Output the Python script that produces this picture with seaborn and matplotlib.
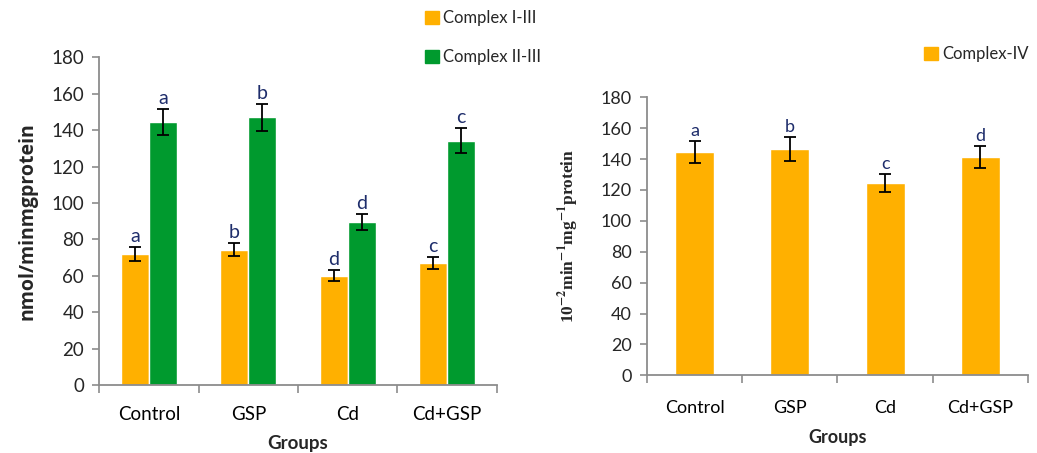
import numpy as np
import pandas as pd
import matplotlib
matplotlib.use('Agg')
import matplotlib.pyplot as plt
from matplotlib.patches import Patch
from matplotlib.ticker import FixedLocator
import seaborn as sns

sns.set_theme(style='white')
plt.rcParams['font.family'] = ['Lato', 'DejaVu Sans']
plt.rcParams['mathtext.fontset'] = 'stix'

# datos
grupos = ['Control', 'GSP', 'Cd', 'Cd+GSP']
series_izq = ['Complex I-III', 'Complex II-III']
c13 = [71.8, 74.3, 60.1, 66.8]
c13_err = [3.9, 3.7, 3.1, 3.3]
c13_let = ['a', 'b', 'd', 'c']
c23 = [144.3, 147.0, 89.4, 134.2]
c23_err = [7.2, 7.3, 4.4, 6.8]
c23_let = ['a', 'b', 'd', 'c']
c4 = [144.6, 146.4, 124.6, 141.5]
c4_err = [7.1, 7.6, 6.0, 7.1]
c4_let = ['a', 'b', 'c', 'd']

naranja = '#FFB000'
verde = '#009A2E'
gris = '#8C8C8C'
letra = '#1E2D6B'

df_izq = pd.DataFrame({
    'Grupo': grupos * 2,
    'Complejo': [series_izq[0]] * 4 + [series_izq[1]] * 4,
    'Valor': c13 + c23,
})
df_der = pd.DataFrame({'Grupo': grupos, 'Valor': c4})

fig = plt.figure(figsize=(10.37, 4.53), dpi=100)
ax1 = fig.add_axes([0.0959, 0.1501, 0.3830, 0.7234])
ax2 = fig.add_axes([0.6239, 0.1715, 0.3674, 0.6137])

sns.barplot(data=df_izq, x='Grupo', y='Valor', hue='Complejo', order=grupos,
            hue_order=series_izq, palette=[naranja, verde], width=0.565,
            errorbar=None, legend=False, saturation=1, ax=ax1)
sns.barplot(data=df_der, x='Grupo', y='Valor', order=grupos, color=naranja,
            width=0.41, errorbar=None, saturation=1, ax=ax2)


def barras_error(ax, cont, vals, errs, letras, fs):
    xs = [p.get_x() + p.get_width() / 2 for p in cont.patches]
    ax.errorbar(xs, vals, yerr=errs, fmt='none', ecolor='black',
                elinewidth=1.3, capsize=4, capthick=1.3)
    for x, v, e, l in zip(xs, vals, errs, letras):
        ax.annotate(l, (x, v + e), xytext=(0, 1.5), textcoords='offset points',
                    ha='center', va='bottom', fontsize=fs, color=letra)


barras_error(ax1, ax1.containers[0], c13, c13_err, c13_let, 14)
barras_error(ax1, ax1.containers[1], c23, c23_err, c23_let, 14)
barras_error(ax2, ax2.containers[0], c4, c4_err, c4_let, 13)

for ax, fs, pad in [(ax1, 13.5, 15), (ax2, 13, 18)]:
    ax.set_ylim(0, 180)
    ax.set_xlim(-0.5, 3.5)
    ax.set_yticks(np.arange(0, 181, 20))
    ax.xaxis.set_minor_locator(FixedLocator([-0.5, 0.5, 1.5, 2.5, 3.5]))
    ax.tick_params(axis='x', which='major', length=0, labelsize=fs, pad=pad, colors='black')
    ax.tick_params(axis='x', which='minor', length=6, width=1.2, color=gris, direction='out', bottom=True)
    ax.tick_params(axis='y', length=5, width=1.2, color=gris, direction='out', labelsize=fs, left=True, pad=6)
    for s in ['top', 'right']:
        ax.spines[s].set_visible(False)
    for s in ['left', 'bottom']:
        ax.spines[s].set_color(gris)
        ax.spines[s].set_linewidth(1.3)
    ax.set_xlabel('Groups', fontsize=fs, fontweight='bold', labelpad=9)

ax1.set_ylabel('nmol/minmgprotein', fontsize=14, fontweight='bold',
               family=['Open Sans', 'DejaVu Sans'], labelpad=10)
ax2.set_ylabel(r'10$^{\mathbf{-2}}$min$^{\mathbf{-1}}$mg$^{\mathbf{-1}}$protein', fontsize=12.5,
               fontweight='bold', family=['Liberation Serif'], labelpad=14)

h1 = [Patch(color=naranja), Patch(color=verde)]
fig.legend(h1, series_izq, loc='upper left', bbox_to_anchor=(0.4098, 0.978),
           frameon=False, fontsize=12, handlelength=0.85, handleheight=0.85,
           handletextpad=0.25, labelspacing=1.4, borderpad=0, borderaxespad=0)
fig.legend([Patch(color=naranja)], ['Complex-IV'], loc='upper left',
           bbox_to_anchor=(0.891, 0.898), frameon=False, fontsize=12,
           handlelength=0.85, handleheight=0.85, handletextpad=0.25,
           borderpad=0, borderaxespad=0)

fig.savefig('out.png', dpi=100)
